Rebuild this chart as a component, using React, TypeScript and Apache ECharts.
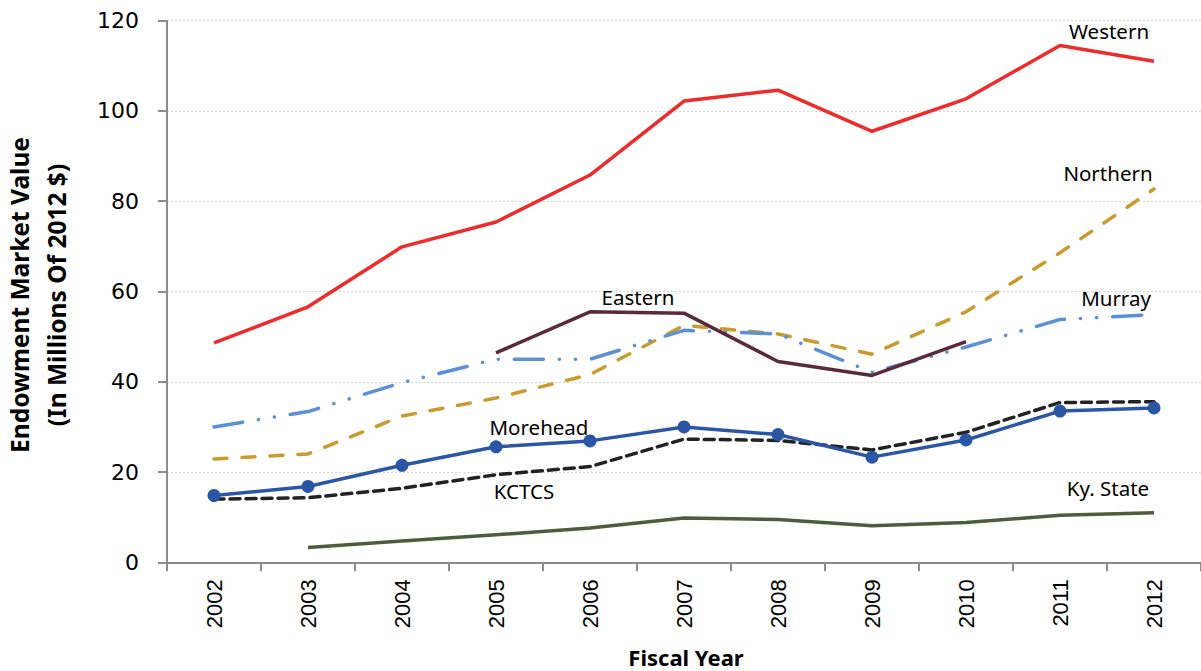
import React, { useEffect, useRef } from "react";
import * as echarts from "echarts";

const years = ["2002", "2003", "2004", "2005", "2006", "2007", "2008", "2009", "2010", "2011", "2012"];
const yTicks = { min: 0, max: 120, interval: 20 };

const western = [48.6, 56.6, 69.9, 75.4, 85.8, 102.2, 104.6, 95.5, 102.7, 114.5, 111.0];
const northern = [22.9, 24.0, 32.4, 36.4, 41.6, 52.5, 50.6, 46.1, 55.5, 68.6, 82.7];
const eastern = [null, null, null, 46.4, 55.5, 55.2, 44.5, 41.4, 48.9, null, null];
const murray = [30.0, 33.4, 39.8, 45.0, 45.0, 51.4, 50.6, 42.1, 47.7, 53.8, 54.9];
const morehead = [14.8, 16.8, 21.5, 25.6, 26.9, 30.0, 28.3, 23.3, 27.1, 33.5, 34.2];
const kctcs = [14.0, 14.3, 16.4, 19.4, 21.2, 27.3, 27.0, 24.9, 28.8, 35.4, 35.6];
const kyState = [null, 3.3, 4.7, 6.1, 7.6, 9.8, 9.5, 8.1, 8.8, 10.4, 11.0];

const labels = [
  { text: "Western", x: 1109, y: 31 },
  { text: "Northern", x: 1108, y: 173 },
  { text: "Eastern", x: 638, y: 297 },
  { text: "Murray", x: 1116, y: 298 },
  { text: "Morehead", x: 539, y: 427 },
  { text: "KCTCS", x: 524, y: 491 },
  { text: "Ky. State", x: 1108, y: 488 },
];

export default function App() {
  const ref = useRef<HTMLDivElement>(null);
  useEffect(() => {
    if (!ref.current) return;
    const chart = echarts.init(ref.current, null, { renderer: "svg" });
    const line = (name: string, data: any[], color: string, type: any, cap: string, extra: any = {}) => ({
      name,
      type: "line",
      data,
      connectNulls: false,
      showSymbol: false,
      symbol: "none",
      lineStyle: { color, width: 3.5, type, cap, join: "round" },
      itemStyle: { color },
      z: 2,
      ...extra,
    });
    chart.setOption({
      animation: false,
      backgroundColor: "#ffffff",
      grid: { left: 167, right: -6, top: 20.7, bottom: 108.7 },
      xAxis: {
        type: "category",
        data: years,
        boundaryGap: true,
        axisLine: { lineStyle: { color: "#8c8c8c", width: 2 } },
        axisTick: { show: true, length: 9, lineStyle: { color: "#8c8c8c", width: 2 } },
        axisLabel: {
          rotate: 90,
          margin: 17,
          fontFamily: "Liberation Sans",
          fontSize: 22,
          color: "#000",
        },
        splitLine: { show: false },
      },
      yAxis: {
        type: "value",
        min: yTicks.min,
        max: yTicks.max,
        interval: yTicks.interval,
        axisLine: { show: true, lineStyle: { color: "#8c8c8c", width: 2 } },
        axisTick: { show: true, length: 9, lineStyle: { color: "#8c8c8c", width: 2 } },
        axisLabel: {
          margin: 28,
          fontFamily: "DejaVu Sans",
          fontSize: 22,
          color: "#000",
        },
        splitLine: { show: true, lineStyle: { color: "#d4d4d4", type: [2, 2], width: 1 } },
      },
      series: [
        line("Western", western, "#ee2a2a", "solid", "butt"),
        line("Northern", northern, "#c99a2e", [13, 15], "round"),
        line("Murray", murray, "#5b8fd6", [29, 16, 0.1, 16, 0.1, 16], "round"),
        line("Eastern", eastern, "#5a2a3c", "solid", "butt"),
        line("KCTCS", kctcs, "#222222", [10, 6], "round"),
        line("Morehead", morehead, "#2b56a6", "solid", "butt", {
          showSymbol: true,
          symbol: "circle",
          symbolSize: 13,
          z: 3,
        }),
        line("Ky. State", kyState, "#4b5e3b", "solid", "butt"),
      ],
      graphic: [
        ...labels.map((l) => ({
          type: "text",
          x: l.x,
          y: l.y,
          style: {
            text: l.text,
            fontFamily: "Noto Sans",
            fontSize: 20.5,
            fill: "#000",
            align: "center",
            verticalAlign: "middle",
          },
          z: 10,
        })),
        {
          type: "text",
          x: 38,
          y: 295,
          rotation: Math.PI / 2,
          style: {
            text: "Endowment Market Value\n(In Millions Of 2012 $)",
            fontFamily: "Noto Sans",
            fontWeight: "bold",
            fontSize: 24.5,
            lineHeight: 37,
            fill: "#000",
            align: "center",
            verticalAlign: "middle",
          },
        },
        {
          type: "text",
          x: 686,
          y: 657,
          style: {
            text: "Fiscal Year",
            fontFamily: "Noto Sans",
            fontWeight: "bold",
            fontSize: 22,
            fill: "#000",
            align: "center",
            verticalAlign: "middle",
          },
        },
      ],
    });
    return () => chart.dispose();
  }, []);
  return (
    <div
      ref={ref}
      style={{ position: "fixed", left: 0, top: 0, width: 1201, height: 671, background: "#fff" }}
    />
  );
}
